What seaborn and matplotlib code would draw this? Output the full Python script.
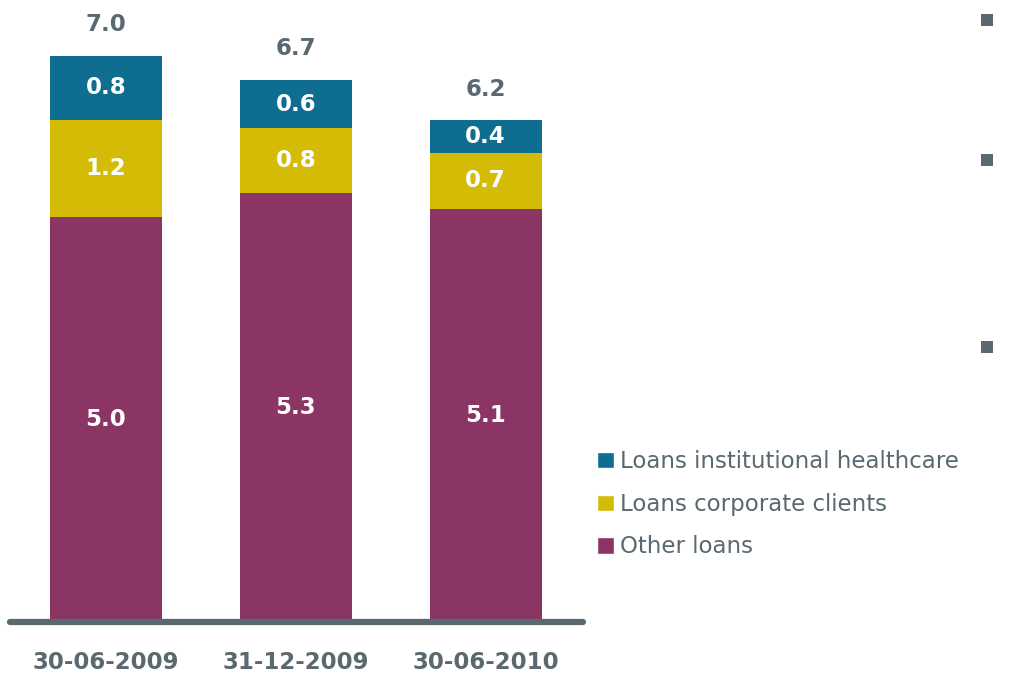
import matplotlib
matplotlib.use("Agg")
import matplotlib.pyplot as plt
from matplotlib.patches import Patch, Rectangle
import seaborn as sns
import pandas as pd
import numpy as np

categories = ["30-06-2009", "31-12-2009", "30-06-2010"]
other_loans = [5.0, 5.3, 5.1]
corporate = [1.2, 0.8, 0.7]
healthcare = [0.8, 0.6, 0.4]
totals = [7.0, 6.7, 6.2]
series_names = ["Loans institutional healthcare", "Loans corporate clients", "Other loans"]

C_TEAL = "#0f6e8f"
C_YELLOW = "#d4bb06"
C_PURPLE = "#8a3563"
C_GRAY = "#5a6870"

sns.set_theme(style="white")
plt.rcParams["font.family"] = ["DejaVu Sans"]

fig = plt.figure(figsize=(10.13, 6.73), dpi=100)
ax = fig.add_axes([10 / 1013, 51 / 673, 573 / 1013, 615 / 673])

cum1 = np.array(other_loans)
cum2 = cum1 + np.array(corporate)
cum3 = cum2 + np.array(healthcare)

df = pd.DataFrame({"cat": categories, "c1": cum1, "c2": cum2, "c3": cum3})
w = 112 / 190
sns.barplot(data=df, x="cat", y="c3", color=C_TEAL, width=w, saturation=1, linewidth=0, ax=ax)
sns.barplot(data=df, x="cat", y="c2", color=C_YELLOW, width=w, saturation=1, linewidth=0, ax=ax)
sns.barplot(data=df, x="cat", y="c1", color=C_PURPLE, width=w, saturation=1, linewidth=0, ax=ax)

ax.set_xlim(-0.505, 2.513)
ax.set_ylim(0, 7.6)
ax.set_xlabel("")
ax.set_ylabel("")
ax.set_yticks([])
for s in ax.spines.values():
    s.set_visible(False)
ax.axhline(0, color=C_GRAY, lw=4.5, solid_capstyle="round", clip_on=False, zorder=5)
ax.tick_params(axis="x", length=0, pad=21, labelsize=16.5, labelcolor=C_GRAY)
for t in ax.get_xticklabels():
    t.set_fontweight("bold")

LBL = 16.5
for i in range(len(categories)):
    ax.text(i, cum1[i] / 2, f"{other_loans[i]:.1f}", ha="center", va="center",
            color="white", fontsize=LBL, fontweight="bold")
    ax.text(i, (cum1[i] + cum2[i]) / 2, f"{corporate[i]:.1f}", ha="center", va="center",
            color="white", fontsize=LBL, fontweight="bold")
    ax.text(i, (cum2[i] + cum3[i]) / 2, f"{healthcare[i]:.1f}", ha="center", va="center",
            color="white", fontsize=LBL, fontweight="bold")
    ax.annotate(f"{totals[i]:.1f}", (i, cum3[i]), xytext=(0, 14), textcoords="offset points",
                ha="center", va="bottom", color=C_GRAY, fontsize=LBL, fontweight="bold")

handles = [Patch(facecolor=C_TEAL), Patch(facecolor=C_YELLOW), Patch(facecolor=C_PURPLE)]
leg = fig.legend(handles, series_names, loc="upper left",
                 bbox_to_anchor=(597 / 1013, 1 - 450 / 673), frameon=False,
                 fontsize=16.5, handlelength=0.72, handleheight=0.72, handletextpad=0.3,
                 labelspacing=0.86, borderpad=0, borderaxespad=0)
for t in leg.get_texts():
    t.set_color(C_GRAY)

for yc in [20, 160, 347]:
    fig.add_artist(Rectangle((981 / 1013, 1 - (yc + 6) / 673), 12 / 1013, 12 / 673,
                             transform=fig.transFigure, facecolor=C_GRAY, edgecolor="none"))

fig.savefig("out.png", dpi=100)
